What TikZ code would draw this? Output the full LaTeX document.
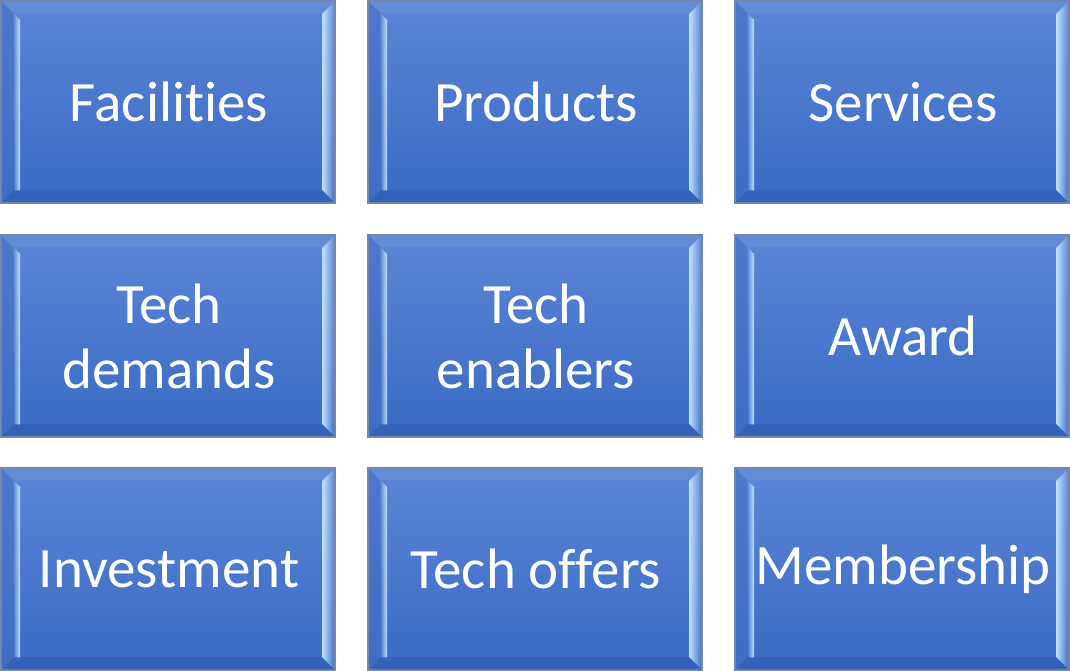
\documentclass[tikz,border=0pt]{standalone}
\usepackage{fontspec}
\setmainfont{Carlito}[Ligatures=NoCommon]
\usetikzlibrary{fadings}
\definecolor{boxtop}{HTML}{5B86D6}
\definecolor{boxbot}{HTML}{3A6AC6}
\definecolor{bevlight}{HTML}{C0E4FF}
\definecolor{bevdark}{HTML}{2F5CB2}
\definecolor{bevleft}{HTML}{4570C2}
\definecolor{boxedge}{HTML}{7386AE}
\tikzset{
  boxtext/.style={text=white,font=\fontsize{57}{65}\selectfont,align=center,inner sep=0pt},
  boxbody/.style={top color=boxtop,bottom color=boxbot},
  boxframe/.style={draw=boxedge,line width=1.4pt}
}
\newcommand\bevbox[4]{%
  \begin{scope}[shift={(#2,#3)}]
    \shade[boxbody] (0,0) rectangle (334,202);
    \fill[bevleft,opacity=0.6] (0,0) -- (12,12) -- (12,190) -- (0,202) -- cycle;
    \fill[bevlight,path fading=west] (12,12) -- (19,19) -- (19,190) -- (12,190) -- cycle;
    \fill[bevlight,path fading=east] (334,0) -- (321,13) -- (321,189) -- (334,202) -- cycle;
    \fill[bevdark,opacity=0.55] (0,202) -- (13,189) -- (321,189) -- (334,202) -- cycle;
    \fill[white,opacity=0.06] (0,0) -- (12,12) -- (322,12) -- (334,0) -- cycle;
    \draw[boxframe] (0,0) rectangle (334,202);
    \node[boxtext] (#1) at (168,101) {#4};
  \end{scope}}
\begin{document}
\begin{tikzpicture}[x=1pt,y=-1pt]
\useasboundingbox (0,0) rectangle (1070,671);
\bevbox{fac}{1}{1}{Facilities}
\bevbox{prod}{368}{1}{Products}
\bevbox{serv}{735}{1}{Services}
\bevbox{tdem}{1}{235}{Tech\\demands}
\bevbox{tena}{368}{235}{Tech\\enablers}
\bevbox{award}{735}{235}{Award}
\bevbox{inv}{1}{468}{Investment}
\bevbox{toff}{368}{468}{Tech offers}
\bevbox{memb}{735}{468}{Membership}
\end{tikzpicture}
\end{document}
